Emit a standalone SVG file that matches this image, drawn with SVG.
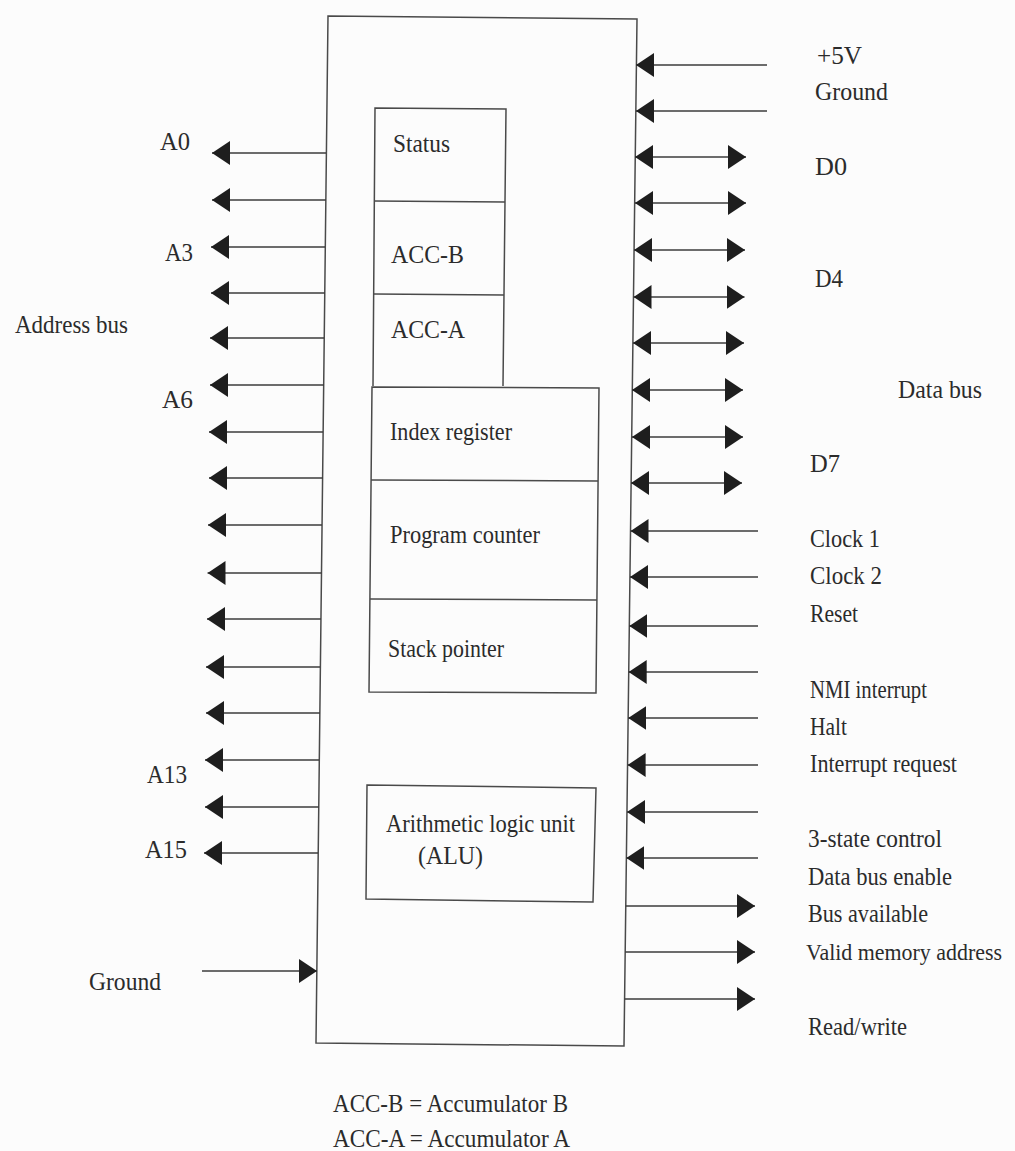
<svg xmlns="http://www.w3.org/2000/svg" width="1015" height="1151" viewBox="0 0 1015 1151">
<style>
.bx{fill:none;stroke:#4a4a4a;stroke-width:1.5}
.ln{fill:none;stroke:#3c3c3c;stroke-width:1.6}
.ae{marker-end:url(#ah)}
.ab{marker-start:url(#ah);marker-end:url(#ah)}
text{font-family:"Liberation Serif","Times New Roman",serif;font-size:26px;fill:#2b2b2b}
</style>
<defs>
<marker id="ah" markerUnits="userSpaceOnUse" markerWidth="18" markerHeight="24" viewBox="0 0 18 24" refX="18" refY="12" orient="auto-start-reverse">
<path d="M0,0 L18,12 L0,24 z" fill="#1e1e1e"/>
</marker>
</defs>
<rect width="1015" height="1151" fill="#fcfcfc"/>

<g id="cpu">
<polygon class="bx" points="328,16 637,19 624,1046 316,1043"/>
</g>
<g id="status-acc">
<path class="bx" d="M373,386 L375,108 L506,109 L503,386"/>
<line class="bx" x1="374" y1="201" x2="505" y2="202"/>
<line class="bx" x1="374" y1="294" x2="504" y2="295"/>
<text x="393" y="152" textLength="57" lengthAdjust="spacingAndGlyphs">Status</text>
<text x="391" y="263" textLength="73" lengthAdjust="spacingAndGlyphs">ACC-B</text>
<text x="391" y="338" textLength="74" lengthAdjust="spacingAndGlyphs">ACC-A</text>
</g>
<g id="index-pc-sp">
<polygon class="bx" points="372,387 599,388 596,693 369,692"/>
<line class="bx" x1="371" y1="480" x2="598" y2="481"/>
<line class="bx" x1="370" y1="599" x2="597" y2="600"/>
<text x="390" y="440" textLength="122" lengthAdjust="spacingAndGlyphs">Index register</text>
<text x="390" y="543" textLength="150" lengthAdjust="spacingAndGlyphs">Program counter</text>
<text x="388" y="657" textLength="116" lengthAdjust="spacingAndGlyphs">Stack pointer</text>
</g>
<g id="alu">
<polygon class="bx" points="367,785 596,788 593,902 366,899"/>
<text x="386" y="832" textLength="189" lengthAdjust="spacingAndGlyphs">Arithmetic logic unit</text>
<text x="418" y="864" textLength="65" lengthAdjust="spacingAndGlyphs">(ALU)</text>
</g>

<g id="connectors">
<line class="ln ae" x1="326" y1="153" x2="212" y2="153"/>
<line class="ln ae" x1="326" y1="200" x2="212" y2="200"/>
<line class="ln ae" x1="325" y1="247" x2="211" y2="247"/>
<line class="ln ae" x1="325" y1="293" x2="211" y2="293"/>
<line class="ln ae" x1="324" y1="338" x2="210" y2="338"/>
<line class="ln ae" x1="324" y1="385" x2="210" y2="385"/>
<line class="ln ae" x1="323" y1="432" x2="209" y2="432"/>
<line class="ln ae" x1="323" y1="478" x2="209" y2="478"/>
<line class="ln ae" x1="322" y1="525" x2="208" y2="525"/>
<line class="ln ae" x1="321.5" y1="573" x2="207.5" y2="573"/>
<line class="ln ae" x1="321" y1="619" x2="207" y2="619"/>
<line class="ln ae" x1="320" y1="667" x2="206" y2="667"/>
<line class="ln ae" x1="320" y1="713" x2="206" y2="713"/>
<line class="ln ae" x1="319" y1="760" x2="205" y2="760"/>
<line class="ln ae" x1="319" y1="807" x2="205" y2="807"/>
<line class="ln ae" x1="318" y1="853" x2="204" y2="853"/>
<line class="ln ae" x1="202" y1="971" x2="317" y2="971"/>
<line class="ln ae" x1="767" y1="65" x2="636" y2="65"/>
<line class="ln ae" x1="767" y1="111" x2="636" y2="111"/>
<line class="ln ab" x1="635" y1="157" x2="746" y2="157"/>
<line class="ln ab" x1="635" y1="203" x2="746" y2="203"/>
<line class="ln ab" x1="634" y1="250" x2="745" y2="250"/>
<line class="ln ab" x1="633.5" y1="297" x2="744.5" y2="297"/>
<line class="ln ab" x1="633" y1="343" x2="744" y2="343"/>
<line class="ln ab" x1="632" y1="390" x2="743" y2="390"/>
<line class="ln ab" x1="632" y1="437" x2="743" y2="437"/>
<line class="ln ab" x1="631" y1="483" x2="742" y2="483"/>
<line class="ln ae" x1="758" y1="531" x2="630.5" y2="531"/>
<line class="ln ae" x1="758" y1="577" x2="630" y2="577"/>
<line class="ln ae" x1="758" y1="626" x2="629.3" y2="626"/>
<line class="ln ae" x1="758" y1="672" x2="628.7" y2="672"/>
<line class="ln ae" x1="758" y1="718" x2="628.2" y2="718"/>
<line class="ln ae" x1="758" y1="765" x2="627.6" y2="765"/>
<line class="ln ae" x1="758" y1="812" x2="627" y2="812"/>
<line class="ln ae" x1="758" y1="858" x2="626.4" y2="858"/>
<line class="ln ae" x1="625.8" y1="906" x2="755" y2="906"/>
<line class="ln ae" x1="625.2" y1="952" x2="755" y2="952"/>
<line class="ln ae" x1="624.6" y1="999" x2="755" y2="999"/>
</g>

<g id="labels-left">
<text x="160" y="150" textLength="30" lengthAdjust="spacingAndGlyphs">A0</text>
<text x="165" y="261" textLength="28" lengthAdjust="spacingAndGlyphs">A3</text>
<text x="15" y="333" textLength="113" lengthAdjust="spacingAndGlyphs">Address bus</text>
<text x="162" y="408" textLength="31" lengthAdjust="spacingAndGlyphs">A6</text>
<text x="147" y="783" textLength="40" lengthAdjust="spacingAndGlyphs">A13</text>
<text x="145" y="858" textLength="42" lengthAdjust="spacingAndGlyphs">A15</text>
<text x="89" y="990" textLength="72" lengthAdjust="spacingAndGlyphs">Ground</text>
</g>
<g id="labels-right">
<text x="817" y="64" textLength="45" lengthAdjust="spacingAndGlyphs">+5V</text>
<text x="815" y="100" textLength="73" lengthAdjust="spacingAndGlyphs">Ground</text>
<text x="815" y="175" textLength="32" lengthAdjust="spacingAndGlyphs">D0</text>
<text x="815" y="287" textLength="28" lengthAdjust="spacingAndGlyphs">D4</text>
<text x="898" y="398" textLength="84" lengthAdjust="spacingAndGlyphs">Data bus</text>
<text x="810" y="472" textLength="30" lengthAdjust="spacingAndGlyphs">D7</text>
<text x="810" y="547" textLength="70" lengthAdjust="spacingAndGlyphs">Clock 1</text>
<text x="810" y="584" textLength="72" lengthAdjust="spacingAndGlyphs">Clock 2</text>
<text x="810" y="622" textLength="48" lengthAdjust="spacingAndGlyphs">Reset</text>
<text x="810" y="698" textLength="117" lengthAdjust="spacingAndGlyphs">NMI interrupt</text>
<text x="810" y="735" textLength="37" lengthAdjust="spacingAndGlyphs">Halt</text>
<text x="810" y="772" textLength="147" lengthAdjust="spacingAndGlyphs">Interrupt request</text>
<text x="808" y="847" textLength="134" lengthAdjust="spacingAndGlyphs">3-state control</text>
<text x="808" y="885" textLength="144" lengthAdjust="spacingAndGlyphs">Data bus enable</text>
<text x="808" y="922" textLength="120" lengthAdjust="spacingAndGlyphs">Bus available</text>
<text x="806" y="960" style="font-size:23px" textLength="196" lengthAdjust="spacingAndGlyphs">Valid memory address</text>
<text x="808" y="1035" textLength="99" lengthAdjust="spacingAndGlyphs">Read/write</text>
</g>
<g id="legend">
<text x="333" y="1112" textLength="235" lengthAdjust="spacingAndGlyphs">ACC-B = Accumulator B</text>
<text x="333" y="1147" textLength="237" lengthAdjust="spacingAndGlyphs">ACC-A = Accumulator A</text>
</g>
</svg>
